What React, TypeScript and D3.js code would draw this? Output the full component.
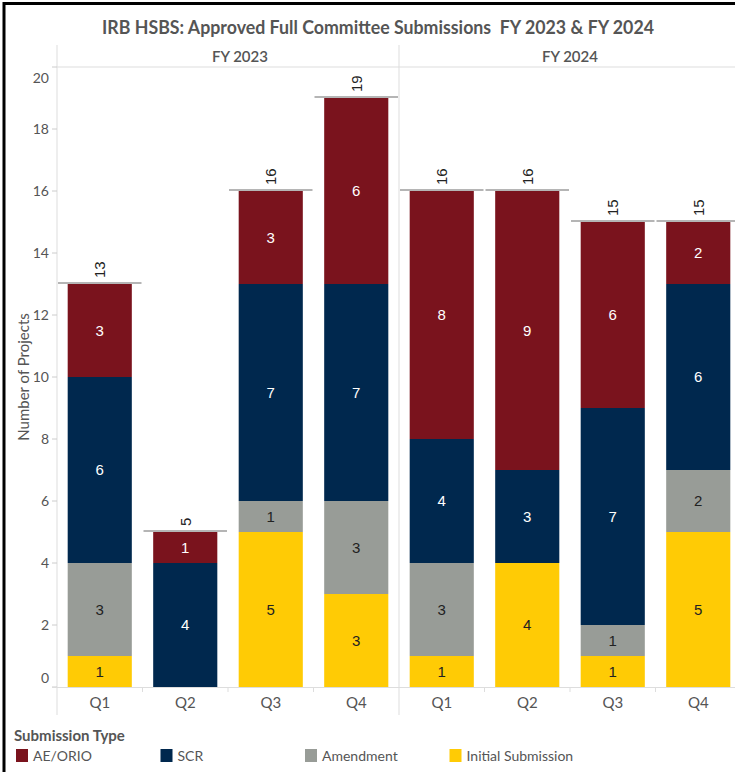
import React from "react";
import * as d3 from "d3";

const quarters = ["Q1", "Q2", "Q3", "Q4"];
const years = ["FY 2023", "FY 2024"];
const seriesNames = ["Initial Submission", "Amendment", "SCR", "AE/ORIO"];
const legendOrder = ["AE/ORIO", "SCR", "Amendment", "Initial Submission"];
const seriesColors = ["#FFCB05", "#989C97", "#00284E", "#7A131D"];
const labelColors = ["#222", "#222", "#fff", "#fff"];

// values per year: [quarter][series]  (series order: Initial, Amendment, SCR, AE/ORIO)
const fy2023 = [
  [1, 3, 6, 3],
  [0, 0, 4, 1],
  [5, 1, 7, 3],
  [3, 3, 7, 6],
];
const fy2024 = [
  [1, 3, 4, 8],
  [4, 0, 3, 9],
  [1, 1, 7, 6],
  [5, 2, 6, 2],
];
const yTicks = [0, 2, 4, 6, 8, 10, 12, 14, 16, 18, 20];
const titleText = "IRB HSBS: Approved Full Committee Submissions  FY 2023 & FY 2024";

const W = 735;
const H = 772;
const plotLeft = 57;
const panelW = 342;
const plotTop = 67;
const plotBottom = 687;
const FONT = "Lato, 'Open Sans', sans-serif";
const LABEL_FONT = "'Liberation Sans', Arial, sans-serif";
const GRAY_TEXT = "#555";
const headerX = [240, 570];

export default function App() {
  const y = d3.scaleLinear().domain([0, 20]).range([plotBottom, plotTop]);
  const x = d3.scaleBand<string>().domain(quarters).range([0, panelW]).paddingInner(0.25).paddingOuter(0.125);
  const step = x.step();
  const panels = [fy2023, fy2024];
  const stack = d3.stack<number[]>().keys(seriesNames.map((_, i) => String(i))).value((d, k) => d[+k]);

  return (
    <svg width={W} height={H} style={{ position: "absolute", left: 0, top: 0, background: "#fff" }}>
      <rect x={0} y={0} width={W} height={H} fill="#fff" />
      {/* frame */}
      <path d={`M4,${H + 10} L4,3.5 L${W + 10},3.5`} fill="none" stroke="#000" strokeWidth={3} />
      {/* title */}
      <text x={378} y={34} textAnchor="middle" fontFamily={FONT} fontSize={18} fontWeight={700} fill={GRAY_TEXT}
        textLength={552} lengthAdjust="spacingAndGlyphs" style={{ whiteSpace: "pre" }}>{titleText}</text>

      {/* panel headers */}
      {years.map((yr, i) => (
        <text key={yr} x={headerX[i]} y={62} textAnchor="middle" fontFamily={FONT}
          fontSize={15} fontWeight={600} fill={GRAY_TEXT}>{yr}</text>
      ))}
      <line x1={plotLeft} x2={plotLeft + 2 * panelW} y1={plotTop} y2={plotTop} stroke="#ddd" />
      {[0, 1].map((i) => (
        <line key={i} x1={plotLeft + panelW * i} x2={plotLeft + panelW * i} y1={45} y2={715} stroke="#ddd" />
      ))}

      {/* y axis */}
      {yTicks.map((t) => {
        const yy = y(t);
        const ly = Math.min(Math.max(yy, plotTop + 11), plotBottom - 9);
        return (
          <g key={t}>
            <line x1={plotLeft - 5} x2={plotLeft} y1={yy} y2={yy} stroke="#ccc" />
            <text x={49} y={ly} dy="0.35em" textAnchor="end" fontFamily={FONT} fontSize={14} fill={GRAY_TEXT}>{t}</text>
          </g>
        );
      })}
      <text transform={`translate(24,${(plotTop + plotBottom) / 2}) rotate(-90)`} textAnchor="middle" dy="0.35em"
        fontFamily={FONT} fontSize={15} fill={GRAY_TEXT}>Number of Projects</text>

      {/* baseline */}
      <line x1={plotLeft - 5} x2={W + 10} y1={plotBottom + 0.5} y2={plotBottom + 0.5} stroke="#ddd" />

      {panels.map((data, pi) => {
        const x0 = plotLeft + panelW * pi;
        const series = stack(data);
        return (
          <g key={pi} transform={`translate(${x0},0)`}>
            {quarters.map((q, qi) => (
              qi > 0 ? <line key={"t" + q} x1={qi * step} x2={qi * step} y1={plotBottom} y2={plotBottom + 5} stroke="#ddd" /> : null
            ))}
            {series.map((s, si) => (
              <g key={si}>
                {s.map((d, qi) => {
                  const v = d[1] - d[0];
                  if (v <= 0) return null;
                  const bx = x(quarters[qi])!;
                  const y1 = y(d[1]);
                  const y0 = y(d[0]);
                  return (
                    <g key={qi}>
                      <rect x={bx} y={y1} width={x.bandwidth()} height={y0 - y1} fill={seriesColors[si]} />
                      <text x={bx + x.bandwidth() / 2} y={(y0 + y1) / 2} dy="0.35em" textAnchor="middle"
                        fontFamily={LABEL_FONT} fontSize={15} fill={labelColors[si]}>{v}</text>
                    </g>
                  );
                })}
              </g>
            ))}
            {data.map((vals, qi) => {
              const total = d3.sum(vals);
              const cx = x(quarters[qi])! + x.bandwidth() / 2;
              const ty = y(total);
              const bandStart = x(quarters[qi])! - (step - x.bandwidth()) / 2;
              return (
                <g key={"tot" + qi}>
                  <line x1={bandStart + 1} x2={bandStart + step - 1} y1={ty - 1} y2={ty - 1} stroke="#b5b5b5" strokeWidth={2} />
                  <text transform={`translate(${cx},${ty - 6}) rotate(-90)`} dy="0.35em" textAnchor="start"
                    fontFamily={LABEL_FONT} fontSize={15} fill="#222">{total}</text>
                </g>
              );
            })}
            {quarters.map((q) => (
              <text key={"q" + q} x={x(q)! + x.bandwidth() / 2} y={708} textAnchor="middle" fontFamily={FONT}
                fontSize={15} fill={GRAY_TEXT}>{q}</text>
            ))}
          </g>
        );
      })}

      {/* legend */}
      <text x={14} y={741} fontFamily={FONT} fontSize={15} fontWeight={700} fill={GRAY_TEXT}>Submission Type</text>
      {legendOrder.map((name, i) => {
        const si = seriesNames.indexOf(name);
        const lx = 16 + i * 144.5;
        return (
          <g key={name}>
            <rect x={lx} y={749} width={12} height={13} fill={seriesColors[si]} />
            <text x={lx + 17} y={761} fontFamily={FONT} fontSize={14} fill={GRAY_TEXT}>{name}</text>
          </g>
        );
      })}
    </svg>
  );
}
